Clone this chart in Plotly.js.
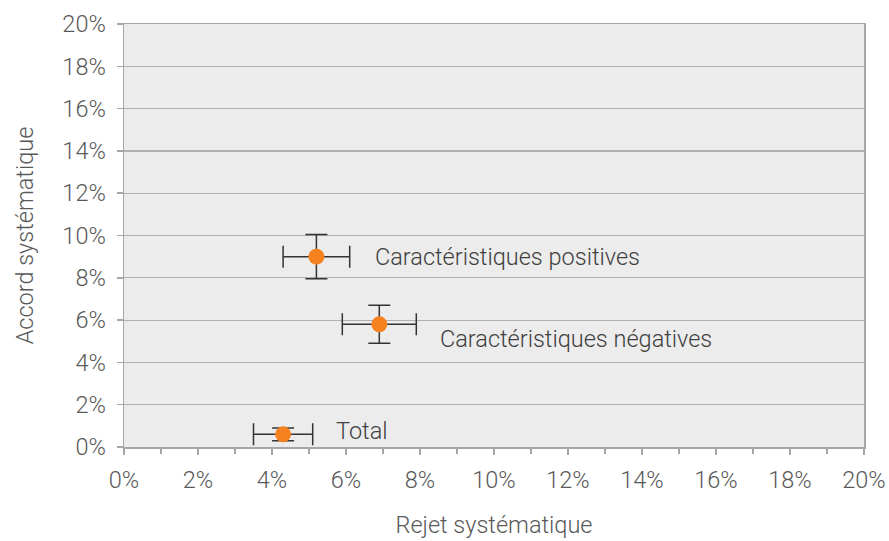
<!DOCTYPE html>
<html><head><meta charset="utf-8">
<script src="https://cdn.plot.ly/plotly-3.0.1.min.js"></script>
<style>html,body{margin:0;padding:0;background:#fff}#c{width:889px;height:541px}</style>
</head><body><div id="c"></div>
<script>
const labels = ["Caractéristiques positives", "Caractéristiques négatives", "Total"];
const rejet = [5.2, 6.9, 4.3];
const rejetErr = [0.9, 1.0, 0.8];
const accord = [9.0, 5.8, 0.6];
const accordErr = [1.05, 0.9, 0.3];
const tickVals = [0, 2, 4, 6, 8, 10, 12, 14, 16, 18, 20];
const tickText = tickVals.map(v => v + "%");

const labelShift = [[57, 0], [59, -15], [51, 3]];
const textColor = "#595959";
const font = {family: "Roboto, sans-serif", size: 23.5, color: textColor, weight: 300};

const trace = {
  type: "scatter", mode: "markers",
  x: rejet, y: accord,
  marker: {color: "#f5821f", size: 16},
  error_x: {type: "data", array: rejetErr, visible: true, color: "#333", thickness: 1.5, width: 11},
  error_y: {type: "data", array: accordErr, visible: true, color: "#333", thickness: 1.5, width: 11},
  hoverinfo: "none"
};

const annotations = labels.map((t, i) => ({
  x: rejet[i], y: accord[i], xref: "x", yref: "y", text: t, showarrow: false,
  xanchor: "left", yanchor: "middle", xshift: labelShift[i][0], yshift: labelShift[i][1],
  font: {family: "Roboto, sans-serif", size: 23.5, color: "#404040", weight: 300}
}));

const layout = {
  width: 889, height: 541,
  margin: {l: 124, r: 25, t: 24, b: 94},
  paper_bgcolor: "#ffffff", plot_bgcolor: "#ececec",
  showlegend: false, font: font,
  xaxis: {
    range: [0, 20], tickvals: tickVals, ticktext: tickText,
    showgrid: false, zeroline: false, showline: true, linecolor: "#a6a6a6", linewidth: 1.5, mirror: true,
    ticks: "outside", ticklen: 6, tickcolor: "#a6a6a6", tickwidth: 1.5, ticklabelstandoff: 5,
    minor: {dtick: 1, ticks: "outside", ticklen: 5, tickcolor: "#a6a6a6", tickwidth: 1.5, showgrid: false},
    tickfont: font,
    title: {text: "Rejet systématique", font: font, standoff: 24}
  },
  yaxis: {
    range: [0, 20], tickvals: tickVals, ticktext: tickText,
    showgrid: true, gridcolor: "#b0b0b0", gridwidth: 1.2, zeroline: false,
    showline: true, linecolor: "#a6a6a6", linewidth: 1.5, mirror: true,
    ticks: "outside", ticklen: 6, tickcolor: "#a6a6a6", tickwidth: 1.5, ticklabelstandoff: 6,
    tickfont: font,
    title: {text: "Accord systématique", font: font, standoff: 22}
  },
  annotations: annotations
};

Plotly.newPlot("c", [trace], layout, {staticPlot: true});
</script>
</body></html>
